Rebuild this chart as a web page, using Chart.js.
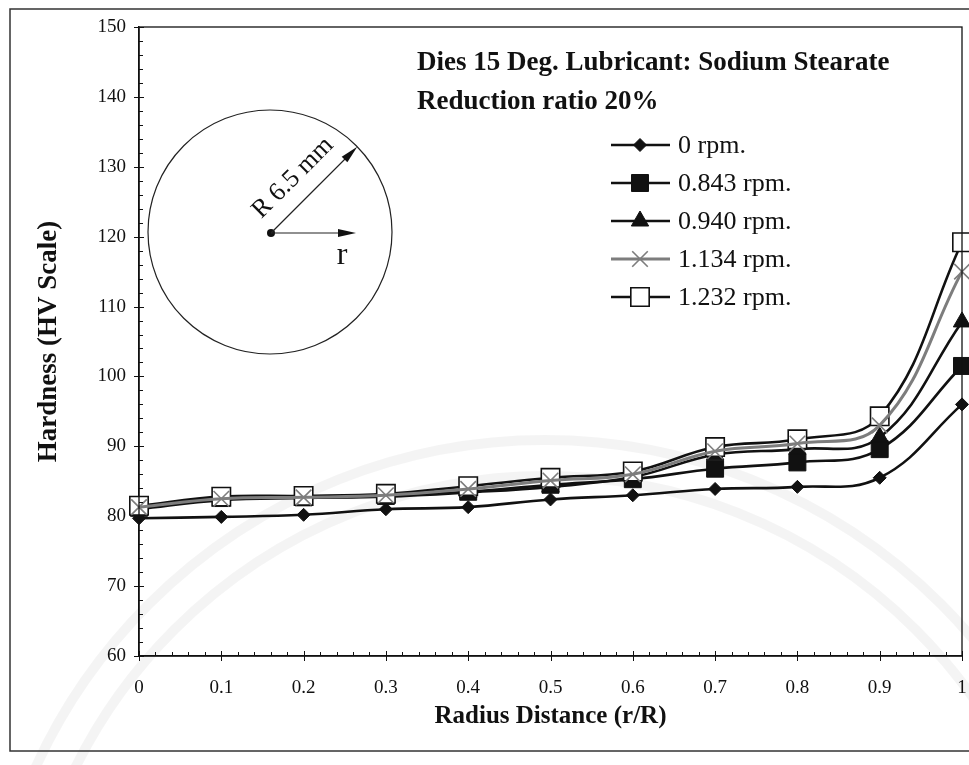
<!DOCTYPE html>
<html>
<head>
<meta charset="utf-8">
<script src="https://cdn.jsdelivr.net/npm/chart.js@4.4.1/dist/chart.umd.min.js"></script>
<style>
  html, body { margin: 0; padding: 0; background: #fff; }
  #wrap { width: 969px; height: 765px; position: relative; }
</style>
</head>
<body>
<div id="wrap"><canvas id="hardnessChart" width="969" height="765"></canvas></div>
<script>
// radial position r/R and Vickers hardness for each spindle speed
const radius = [0, 0.1, 0.2, 0.3, 0.4, 0.5, 0.6, 0.7, 0.8, 0.9, 1];
const hv0rpm    = [79.7, 79.9, 80.2, 81.0, 81.3, 82.4, 83.0, 83.9, 84.2, 85.5, 96.0];
const hv0843rpm = [81.2, 82.6, 82.7, 82.9, 83.5, 84.5, 85.3, 86.8, 87.7, 89.6, 101.5];
const hv0940rpm = [81.0, 82.3, 82.6, 82.8, 83.4, 84.2, 85.6, 88.8, 89.6, 91.3, 107.8];
const hv1134rpm = [81.3, 82.5, 82.7, 83.0, 83.9, 85.1, 86.0, 89.3, 90.4, 93.0, 115.0];
const hv1232rpm = [81.5, 82.8, 82.9, 83.2, 84.3, 85.5, 86.4, 89.9, 91.0, 94.3, 119.2];

const seriesNames = ["0 rpm.", "0.843 rpm.", "0.940 rpm.", "1.134 rpm.", "1.232 rpm."];
const yTicks = [60, 70, 80, 90, 100, 110, 120, 130, 140, 150];
const xTicks = [0, 0.1, 0.2, 0.3, 0.4, 0.5, 0.6, 0.7, 0.8, 0.9, 1];

const SERIF = "'Liberation Serif', 'Times New Roman', serif";
const INK = "#111";

function pts(values) {
  return radius.map((r, i) => ({ x: r, y: values[i] }));
}

const datasets = [
  { label: seriesNames[0], data: pts(hv0rpm), borderColor: INK, backgroundColor: INK,
    pointStyle: "rectRot", pointRadius: 6.5, borderWidth: 2.6, pointBorderWidth: 1, order: 4 },
  { label: seriesNames[1], data: pts(hv0843rpm), borderColor: INK, backgroundColor: INK,
    pointStyle: "rect", pointRadius: 12, borderWidth: 2.6, pointBorderWidth: 1, order: 3 },
  { label: seriesNames[2], data: pts(hv0940rpm), borderColor: INK, backgroundColor: INK,
    pointStyle: "triangle", pointRadius: 10, borderWidth: 2.6, pointBorderWidth: 1, order: 2 },
  { label: seriesNames[3], data: pts(hv1134rpm), borderColor: "#7d7d7d", backgroundColor: "#7d7d7d",
    pointStyle: "crossRot", pointRadius: 11, borderWidth: 3, pointBorderWidth: 1.6, order: 0 },
  { label: seriesNames[4], data: pts(hv1232rpm), borderColor: INK, backgroundColor: "#fff",
    pointStyle: "rect", pointRadius: 13, borderWidth: 2.6, pointBorderWidth: 1.6, order: 1 }
].map(ds => Object.assign(ds, { clip: false }));

// faint seal arcs behind everything
const backdrop = {
  id: "backdrop",
  beforeDraw(chart) {
    const ctx = chart.ctx;
    ctx.save();
    ctx.fillStyle = "#fff";
    ctx.fillRect(0, 0, chart.width, chart.height);
    ctx.strokeStyle = "rgba(0,0,0,0.045)";
    ctx.lineWidth = 10;
    [560, 524].forEach(r => {
      ctx.beginPath();
      ctx.arc(545, 1000, r, Math.PI, 2 * Math.PI);
      ctx.stroke();
    });
    ctx.restore();
  }
};

// plot frame, inward tick marks, legend, titles and the section sketch
const decorations = {
  id: "decorations",
  afterDraw(chart) {
    const ctx = chart.ctx;
    const a = chart.chartArea;
    const xs = chart.scales.x, ys = chart.scales.y;
    ctx.save();

    // outer figure frame
    ctx.strokeStyle = "#333";
    ctx.lineWidth = 1.5;
    ctx.strokeRect(10, 9, 975, 742);

    // plot box
    ctx.strokeStyle = INK;
    ctx.lineWidth = 1.3;
    ctx.strokeRect(a.left, a.top, a.right - a.left, a.bottom - a.top);

    // y ticks: major every 10, minor every 2
    ctx.lineWidth = 1;
    for (let v = 60; v <= 150; v += 2) {
      const y = Math.round(ys.getPixelForValue(v)) + 0.5;
      const major = v % 10 === 0;
      ctx.beginPath();
      ctx.moveTo(a.left - (major ? 5 : 0), y);
      ctx.lineTo(a.left + (major ? 5 : 4), y);
      ctx.stroke();
    }
    // x ticks: major every 0.1, minor every 0.02
    for (let i = 0; i <= 50; i++) {
      const x = Math.round(xs.getPixelForValue(i / 50)) + 0.5;
      const major = i % 5 === 0;
      ctx.beginPath();
      ctx.moveTo(x, a.bottom + (major ? 5 : 0));
      ctx.lineTo(x, a.bottom - (major ? 5 : 4));
      ctx.stroke();
    }

    // heading
    ctx.fillStyle = INK;
    ctx.font = "bold 27px " + SERIF;
    ctx.textBaseline = "middle";
    ctx.textAlign = "left";
    ctx.fillText("Dies 15 Deg. Lubricant: Sodium Stearate", 417, 63);
    ctx.fillText("Reduction ratio 20%", 417, 102);

    // legend
    const rowY = [145, 183, 221, 259, 297];
    chart.data.datasets.forEach((ds, i) => {
      const y = rowY[i];
      ctx.strokeStyle = ds.borderColor;
      ctx.lineWidth = ds.borderWidth;
      ctx.beginPath();
      ctx.moveTo(611, y);
      ctx.lineTo(670, y);
      ctx.stroke();
      ctx.fillStyle = ds.backgroundColor;
      ctx.strokeStyle = ds.borderColor;
      ctx.lineWidth = ds.pointBorderWidth;
      Chart.helpers.drawPoint(ctx, {
        pointStyle: ds.pointStyle,
        radius: ds.pointRadius,
        rotation: 0,
        borderWidth: ds.pointBorderWidth
      }, 640, y);
      ctx.fillStyle = INK;
      ctx.font = "26px " + SERIF;
      ctx.textAlign = "left";
      ctx.fillText(ds.label, 678, y + 1);
    });

    // cross-section sketch: circle of radius R with r and R arrows
    const cx = 270, cy = 232, R = 122;
    ctx.strokeStyle = "#222";
    ctx.lineWidth = 1.2;
    ctx.beginPath();
    ctx.arc(cx, cy, R, 0, 2 * Math.PI);
    ctx.stroke();

    ctx.fillStyle = INK;
    ctx.beginPath();
    ctx.arc(cx + 1, cy + 1, 4, 0, 2 * Math.PI);
    ctx.fill();

    function arrow(x0, y0, x1, y1) {
      const ang = Math.atan2(y1 - y0, x1 - x0);
      ctx.beginPath();
      ctx.moveTo(x0, y0);
      ctx.lineTo(x1 - 12 * Math.cos(ang), y1 - 12 * Math.sin(ang));
      ctx.stroke();
      ctx.beginPath();
      ctx.moveTo(x1, y1);
      ctx.lineTo(x1 - 18 * Math.cos(ang) + 4 * Math.sin(ang), y1 - 18 * Math.sin(ang) - 4 * Math.cos(ang));
      ctx.lineTo(x1 - 18 * Math.cos(ang) - 4 * Math.sin(ang), y1 - 18 * Math.sin(ang) + 4 * Math.cos(ang));
      ctx.closePath();
      ctx.fill();
    }
    ctx.lineWidth = 1.2;
    arrow(cx + 1, cy + 1, 356, cy + 1);
    arrow(cx + 1, cy + 1, cx + 1 + R * Math.SQRT1_2, cy + 1 - R * Math.SQRT1_2);

    ctx.font = "32px " + SERIF;
    ctx.textAlign = "center";
    ctx.fillText("r", 342, 256);

    ctx.save();
    ctx.translate(293, 178);
    ctx.rotate(-Math.PI / 4);
    ctx.font = "26px " + SERIF;
    ctx.fillText("R 6.5 mm", 0, 0);
    ctx.restore();

    ctx.restore();
  }
};

new Chart(document.getElementById("hardnessChart"), {
  type: "line",
  data: { datasets },
  options: {
    responsive: false,
    animation: false,
    events: [],
    layout: { autoPadding: false, padding: { top: 27, right: 7, bottom: 0, left: 0 } },
    elements: { line: { tension: 0.4, fill: false } },
    plugins: { legend: { display: false }, tooltip: { enabled: false } },
    scales: {
      x: {
        type: "linear",
        min: 0,
        max: 1,
        afterFit(scale) {
          scale.height = 109;
          scale.paddingLeft = 0;
          scale.paddingRight = 0;
        },
        afterBuildTicks(scale) { scale.ticks = xTicks.map(v => ({ value: v })); },
        grid: { display: false, drawTicks: false },
        border: { display: true, color: INK, width: 1.5 },
        ticks: {
          padding: 21,
          color: INK,
          font: { family: SERIF, size: 19 },
          callback: v => String(Number(v.toFixed(1)))
        },
        title: {
          display: true,
          text: "Radius Distance (r/R)",
          color: INK,
          font: { family: SERIF, size: 25, weight: "bold" },
          padding: { top: 0, bottom: 33 }
        }
      },
      y: {
        min: 60,
        max: 150,
        afterFit(scale) { scale.width = 139; },
        afterBuildTicks(scale) { scale.ticks = yTicks.map(v => ({ value: v })); },
        grid: { display: false, drawTicks: false },
        border: { display: true, color: INK, width: 1.5 },
        ticks: {
          padding: 13,
          color: INK,
          font: { family: SERIF, size: 19 }
        },
        title: {
          display: true,
          text: "Hardness (HV Scale)",
          color: INK,
          font: { family: SERIF, size: 27, weight: "bold" },
          padding: { top: 33, bottom: 0 }
        }
      }
    }
  },
  plugins: [backdrop, decorations]
});
</script>
</body>
</html>
